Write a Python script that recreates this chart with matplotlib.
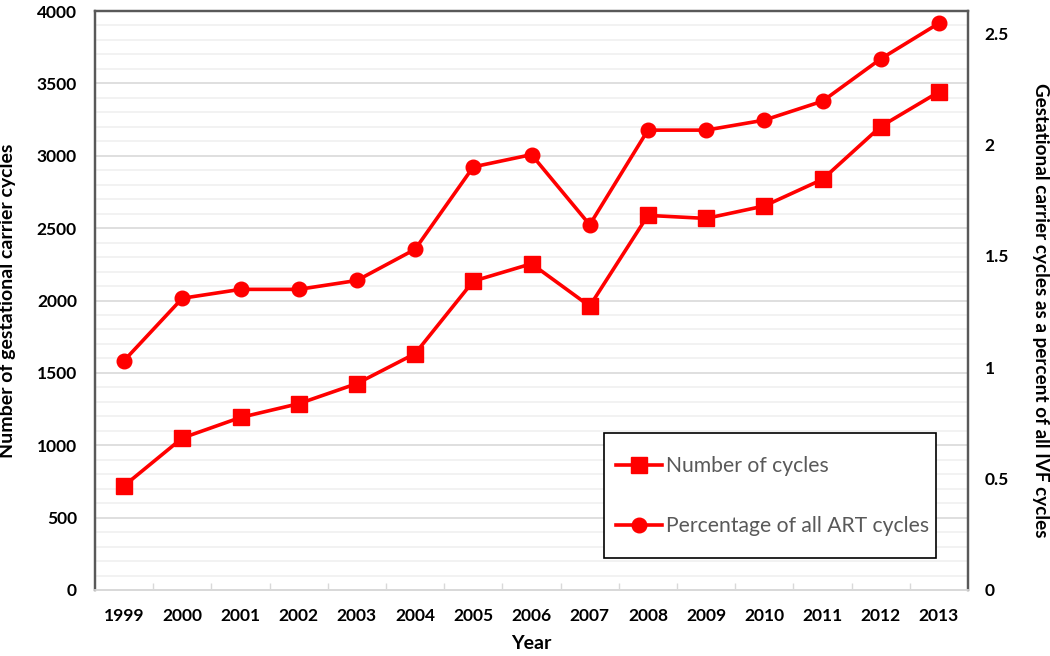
import matplotlib
matplotlib.use("Agg")
import matplotlib.pyplot as plt
from matplotlib.ticker import MultipleLocator, FixedLocator
from matplotlib.patches import Rectangle

plt.rcParams['font.family'] = ['Lato', 'DejaVu Sans']

years = ['1999', '2000', '2001', '2002', '2003', '2004', '2005', '2006',
         '2007', '2008', '2009', '2010', '2011', '2012', '2013']
num_cycles = [720, 1050, 1192, 1287, 1426, 1633, 2134, 2254, 1961, 2588,
              2567, 2653, 2837, 3202, 3441]
pct_cycles = [1.03, 1.31, 1.35, 1.35, 1.39, 1.53, 1.90, 1.955, 1.64, 2.065,
              2.065, 2.11, 2.195, 2.385, 2.545]

left_ticks = [0, 500, 1000, 1500, 2000, 2500, 3000, 3500, 4000]
right_ticks = [0, 0.5, 1, 1.5, 2, 2.5]
right_labels = ['0', '0.5', '1', '1.5', '2', '2.5']

red = '#ff0000'
dark = '#595959'

fig = plt.figure(figsize=(10.5, 6.56), dpi=100)
W, H = 1050, 656
ax = fig.add_axes([95 / W, 1 - 590 / H, (968 - 95) / W, (590 - 11) / H])
ax2 = ax.twinx()

x = list(range(len(years)))

ax.set_xlim(-0.5, len(years) - 0.5)
ax.set_ylim(0, 4000)
ax2.set_ylim(0, 2.6)

ax.yaxis.set_major_locator(FixedLocator(left_ticks))
ax.yaxis.set_minor_locator(MultipleLocator(100))
ax.grid(which='major', axis='y', color='#d9d9d9', linewidth=1.2, zorder=0)
ax.grid(which='minor', axis='y', color='#f0f0f0', linewidth=1.2, zorder=0)
ax.set_axisbelow(True)

ln1, = ax.plot(x, num_cycles, color=red, linewidth=2.6, marker='s',
               markersize=11, label='Number of cycles', zorder=3)
ln2, = ax2.plot(x, pct_cycles, color=red, linewidth=2.6, marker='o',
                markersize=10.5, label='Percentage of all ART cycles', zorder=3)

ax.set_xticks(x)
ax.set_xticklabels(years, fontsize=12.5, fontweight='bold')
ax.xaxis.set_minor_locator(FixedLocator([i + 0.5 for i in range(len(years) - 1)]))
ax.tick_params(axis='x', which='major', length=0, pad=13)
ax.tick_params(axis='x', which='minor', direction='in', length=5,
               color='#d9d9d9', width=1)

ax.set_yticks(left_ticks)
ax.set_yticklabels([str(t) for t in left_ticks], fontsize=12.5, fontweight='bold')
ax.tick_params(axis='y', which='both', length=0, pad=13)

ax2.set_yticks(right_ticks)
ax2.set_yticklabels(right_labels, fontsize=12.5, fontweight='bold')
ax2.tick_params(axis='y', which='both', length=0, pad=12)

for a in (ax, ax2):
    a.spines['left'].set_color(dark)
    a.spines['right'].set_color(dark)
    a.spines['top'].set_color(dark)
    a.spines['bottom'].set_color('#d9d9d9')
    for s in ('left', 'right', 'top'):
        a.spines[s].set_linewidth(1.6)
    a.spines['bottom'].set_linewidth(1.3)

ax.set_xlabel('Year', fontsize=14, fontweight='bold', labelpad=8)
ax.set_ylabel('Number of gestational carrier cycles', fontsize=14,
              fontweight='bold')
ax.yaxis.set_label_coords((16 - 95) / 873, 0.5)
ax2.set_ylabel('Gestational carrier cycles as a percent of all IVF cycles',
               fontsize=13.6, fontweight='bold', rotation=270, va='center')
ax2.yaxis.set_label_coords((1040 - 95) / 873, (590 - 310) / 579)

# legend frame
fig.patches.append(Rectangle((604 / W, 1 - 558 / H), (936 - 604) / W,
                             (558 - 433) / H, transform=fig.transFigure,
                             facecolor='white', edgecolor='black',
                             linewidth=1.2, zorder=4))
leg = fig.legend(handles=[ln1, ln2], loc='center left',
                 bbox_to_anchor=(616 / W, 1 - 496 / H),
                 fontsize=15.2, frameon=False, handlelength=2.2,
                 handletextpad=0.15, labelspacing=1.9, borderpad=0,
                 borderaxespad=0)
leg.set_zorder(5)
for t in leg.get_texts():
    t.set_color(dark)

fig.savefig('out.png', dpi=100)
